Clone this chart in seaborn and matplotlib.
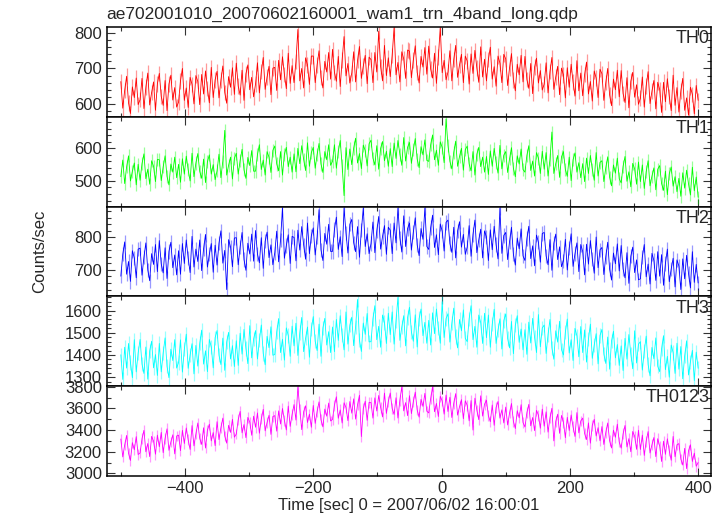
import numpy as np
import matplotlib
matplotlib.use("Agg")
import matplotlib.pyplot as plt
from matplotlib.ticker import MultipleLocator
import seaborn as sns

# time bins (sec), 3 s apart from -500 to 400
time = np.arange(-500, 401, 3)

th0 = [663, 588, 638, 678, 603, 573, 648, 618, 673, 598,
       612, 672, 587, 647, 687, 597, 632, 662, 582, 657,
       686, 621, 596, 666, 581, 656, 681, 611, 646, 591,
       605, 665, 700, 610, 645, 590, 675, 655, 600, 680,
       663, 598, 683, 628, 693, 643, 603, 703, 618, 668,
       692, 617, 667, 707, 632, 602, 677, 647, 702, 627,
       715, 650, 625, 695, 610, 685, 710, 640, 675, 620,
       656, 716, 631, 691, 731, 641, 676, 706, 626, 701,
       703, 638, 723, 668, 733, 683, 643, 743, 658, 708,
       660, 720, 810, 665, 700, 645, 730, 710, 655, 735,
       735, 660, 710, 750, 675, 645, 720, 690, 745, 670,
       754, 689, 664, 734, 649, 724, 790, 679, 714, 659,
       687, 747, 662, 722, 762, 672, 707, 737, 657, 732,
       725, 660, 745, 690, 805, 705, 665, 765, 680, 730,
       677, 737, 815, 682, 717, 662, 747, 727, 672, 752,
       749, 674, 724, 764, 689, 659, 734, 704, 759, 684,
       763, 698, 673, 743, 658, 733, 815, 688, 723, 668,
       690, 750, 665, 725, 765, 675, 710, 740, 660, 735,
       721, 656, 741, 686, 751, 701, 661, 761, 676, 726,
       665, 725, 760, 670, 705, 650, 735, 715, 660, 740,
       727, 652, 702, 742, 667, 637, 712, 682, 737, 662,
       734, 669, 644, 714, 629, 704, 729, 659, 694, 639,
       656, 716, 631, 691, 731, 641, 676, 706, 626, 701,
       682, 617, 702, 647, 712, 662, 622, 722, 637, 687,
       623, 683, 718, 628, 663, 608, 693, 673, 618, 698,
       685, 610, 660, 700, 625, 595, 670, 640, 695, 620,
       694, 629, 604, 674, 589, 664, 689, 619, 654, 599,
       616, 676, 591, 651, 691, 601, 636, 666, 586, 661,
       641, 576, 661, 606, 671, 621, 581, 681, 596, 646,
       577, 637, 672, 582, 617, 568, 647, 627, 572, 652,
       610]

th1 = [513, 564, 492, 543, 577, 500, 530, 555, 488, 551,
       502, 553, 583, 507, 536, 490, 562, 545, 498, 566,
       565, 501, 543, 577, 514, 488, 552, 527, 573, 510,
       551, 496, 568, 521, 576, 534, 500, 585, 513, 555,
       584, 529, 508, 567, 495, 559, 580, 521, 550, 504,
       531, 582, 510, 561, 655, 518, 548, 573, 506, 569,
       585, 521, 563, 597, 534, 508, 572, 547, 593, 530,
       530, 581, 611, 535, 564, 518, 590, 573, 526, 594,
       607, 552, 531, 590, 518, 582, 603, 544, 573, 527,
       583, 528, 600, 553, 608, 566, 532, 617, 545, 587,
       603, 539, 581, 615, 552, 526, 590, 565, 611, 548,
       560, 611, 539, 590, 624, 547, 455, 602, 535, 598,
       550, 601, 631, 555, 584, 538, 610, 593, 546, 614,
       625, 570, 549, 608, 536, 600, 621, 562, 591, 545,
       599, 544, 616, 569, 624, 582, 548, 633, 561, 603,
       618, 554, 596, 630, 567, 541, 605, 580, 626, 563,
       560, 611, 641, 565, 594, 548, 620, 603, 556, 690,
       609, 560, 537, 588, 622, 545, 575, 600, 533, 596,
       607, 552, 531, 590, 518, 582, 603, 544, 573, 527,
       575, 520, 592, 545, 600, 558, 524, 609, 537, 579,
       590, 526, 568, 602, 539, 513, 577, 552, 598, 535,
       527, 578, 608, 532, 561, 515, 587, 570, 523, 591,
       536, 587, 515, 566, 650, 523, 553, 578, 511, 574,
       590, 535, 514, 573, 501, 565, 586, 527, 556, 510,
       553, 498, 570, 523, 578, 536, 502, 587, 515, 557,
       562, 498, 540, 574, 511, 485, 549, 524, 570, 507,
       494, 545, 575, 499, 528, 482, 554, 537, 490, 558,
       498, 549, 477, 528, 562, 485, 515, 540, 473, 536,
       547, 492, 471, 530, 458, 522, 543, 484, 513, 467,
       508, 453, 525, 478, 533, 491, 457, 542, 470, 512,
       450]

th2 = [681, 748, 786, 687, 726, 665, 759, 737, 676, 764,
       767, 684, 739, 783, 700, 667, 750, 717, 778, 695,
       790, 718, 691, 768, 674, 757, 785, 707, 746, 685,
       759, 687, 781, 720, 792, 736, 692, 803, 709, 764,
       726, 792, 698, 765, 809, 709, 748, 781, 693, 776,
       715, 782, 820, 721, 760, 640, 793, 771, 710, 798,
       799, 716, 771, 815, 732, 699, 782, 749, 810, 727,
       821, 749, 722, 799, 705, 788, 816, 738, 777, 716,
       753, 819, 725, 792, 890, 736, 775, 808, 720, 803,
       800, 728, 822, 761, 833, 777, 733, 844, 750, 805,
       829, 746, 801, 885, 762, 729, 812, 779, 840, 757,
       757, 824, 862, 763, 802, 741, 890, 813, 752, 840,
       855, 783, 756, 833, 739, 822, 890, 772, 811, 750,
       781, 847, 753, 820, 864, 764, 803, 836, 748, 831,
       822, 750, 844, 783, 890, 799, 755, 866, 772, 827,
       844, 761, 816, 860, 777, 744, 827, 794, 890, 772,
       763, 830, 868, 769, 808, 747, 841, 819, 758, 846,
       853, 781, 754, 831, 737, 820, 848, 770, 809, 748,
       770, 836, 742, 809, 853, 753, 792, 825, 737, 820,
       801, 729, 823, 762, 834, 778, 734, 890, 751, 806,
       815, 732, 787, 831, 748, 715, 798, 765, 826, 743,
       729, 796, 834, 735, 774, 713, 807, 785, 724, 812,
       815, 743, 716, 793, 699, 782, 810, 732, 771, 710,
       728, 794, 700, 767, 811, 711, 750, 783, 695, 778,
       757, 685, 779, 718, 790, 734, 690, 801, 707, 762,
       769, 686, 741, 785, 702, 669, 752, 719, 780, 697,
       775, 703, 676, 753, 659, 742, 770, 692, 731, 670,
       673, 740, 778, 679, 718, 657, 751, 729, 668, 756,
       681, 747, 653, 720, 764, 664, 703, 736, 648, 731,
       712, 640, 734, 673, 745, 689, 645, 756, 662, 717,
       660]

th3 = [1401, 1290, 1435, 1341, 1452, 1366, 1298, 1469, 1324, 1409,
       1470, 1359, 1317, 1436, 1291, 1419, 1462, 1342, 1402, 1308,
       1452, 1324, 1409, 1477, 1349, 1298, 1426, 1375, 1469, 1341,
       1366, 1468, 1323, 1426, 1494, 1340, 1400, 1451, 1315, 1443,
       1350, 1453, 1512, 1359, 1419, 1325, 1470, 1436, 1342, 1478,
       1510, 1399, 1357, 1476, 1331, 1459, 1502, 1382, 1442, 1348,
       1464, 1353, 1498, 1404, 1515, 1429, 1361, 1532, 1387, 1472,
       1510, 1382, 1467, 1535, 1407, 1356, 1484, 1433, 1527, 1399,
       1402, 1505, 1564, 1411, 1471, 1377, 1522, 1488, 1394, 1530,
       1441, 1543, 1398, 1501, 1569, 1415, 1475, 1526, 1390, 1518,
       1573, 1462, 1420, 1539, 1394, 1522, 1565, 1445, 1505, 1411,
       1526, 1415, 1560, 1466, 1577, 1491, 1423, 1594, 1449, 1534,
       1570, 1442, 1527, 1650, 1467, 1416, 1544, 1493, 1587, 1459,
       1460, 1563, 1622, 1469, 1529, 1435, 1580, 1546, 1452, 1588,
       1492, 1594, 1449, 1552, 1660, 1466, 1526, 1577, 1441, 1569,
       1615, 1504, 1462, 1581, 1436, 1564, 1607, 1487, 1547, 1453,
       1556, 1445, 1590, 1496, 1607, 1521, 1453, 1640, 1479, 1564,
       1586, 1458, 1543, 1611, 1483, 1432, 1560, 1509, 1603, 1475,
       1460, 1563, 1622, 1469, 1529, 1435, 1580, 1546, 1452, 1588,
       1478, 1580, 1435, 1538, 1606, 1452, 1512, 1563, 1427, 1555,
       1585, 1474, 1432, 1551, 1406, 1534, 1577, 1457, 1517, 1423,
       1514, 1403, 1548, 1454, 1565, 1479, 1411, 1582, 1437, 1522,
       1535, 1407, 1492, 1560, 1432, 1381, 1509, 1458, 1552, 1424,
       1400, 1503, 1562, 1409, 1469, 1375, 1520, 1486, 1392, 1528,
       1411, 1513, 1368, 1471, 1539, 1385, 1445, 1496, 1360, 1488,
       1515, 1404, 1362, 1481, 1336, 1464, 1507, 1387, 1447, 1353,
       1441, 1330, 1475, 1381, 1492, 1406, 1338, 1509, 1364, 1449,
       1460, 1332, 1417, 1485, 1357, 1306, 1434, 1383, 1477, 1349,
       1325, 1428, 1487, 1334, 1394, 1300, 1445, 1411, 1317, 1453,
       1336, 1438, 1293, 1396, 1464, 1310, 1370, 1421, 1285, 1413,
       1340]

th0123 = [3317, 3152, 3262, 3350, 3185, 3119, 3284, 3218, 3339, 3174,
          3188, 3320, 3397, 3199, 3276, 3155, 3342, 3298, 3177, 3353,
          3246, 3378, 3191, 3323, 3411, 3213, 3290, 3356, 3180, 3345,
          3353, 3210, 3397, 3276, 3419, 3309, 3221, 3441, 3254, 3364,
          3465, 3322, 3267, 3421, 3234, 3399, 3454, 3300, 3377, 3256,
          3477, 3312, 3422, 3510, 3345, 3279, 3444, 3378, 3499, 3334,
          3363, 3495, 3572, 3374, 3451, 3330, 3517, 3473, 3352, 3528,
          3426, 3558, 3371, 3503, 3591, 3393, 3470, 3536, 3360, 3525,
          3533, 3390, 3577, 3456, 3599, 3489, 3401, 3621, 3434, 3544,
          3635, 3492, 3800, 3591, 3404, 3569, 3624, 3470, 3547, 3426,
          3627, 3462, 3572, 3660, 3495, 3429, 3594, 3528, 3649, 3484,
          3498, 3630, 3707, 3509, 3586, 3465, 3652, 3608, 3487, 3663,
          3556, 3688, 3501, 3633, 3721, 3340, 3600, 3666, 3490, 3655,
          3653, 3510, 3697, 3576, 3719, 3609, 3521, 3741, 3554, 3664,
          3742, 3599, 3544, 3698, 3511, 3676, 3800, 3577, 3654, 3533,
          3717, 3552, 3662, 3750, 3585, 3519, 3684, 3618, 3739, 3574,
          3558, 3690, 3800, 3569, 3646, 3525, 3712, 3668, 3547, 3723,
          3571, 3703, 3516, 3648, 3736, 3538, 3615, 3681, 3505, 3670,
          3628, 3485, 3672, 3400, 3694, 3584, 3496, 3716, 3529, 3639,
          3675, 3532, 3477, 3631, 3444, 3609, 3664, 3510, 3587, 3466,
          3612, 3447, 3557, 3645, 3480, 3414, 3579, 3513, 3634, 3469,
          3428, 3560, 3637, 3439, 3516, 3395, 3582, 3538, 3417, 3593,
          3436, 3568, 3381, 3513, 3601, 3300, 3480, 3546, 3370, 3535,
          3473, 3330, 3517, 3396, 3539, 3429, 3341, 3561, 3374, 3484,
          3510, 3367, 3312, 3466, 3279, 3444, 3499, 3345, 3422, 3301,
          3432, 3267, 3377, 3465, 3300, 3234, 3399, 3333, 3454, 3289,
          3233, 3365, 3442, 3244, 3321, 3200, 3387, 3343, 3222, 3398,
          3221, 3353, 3166, 3298, 3386, 3188, 3265, 3331, 3155, 3320,
          3253, 3110, 3297, 3176, 3319, 3209, 3121, 3341, 3154, 3264,
          3275, 3132, 3077, 3231, 3044, 3209, 3264, 3110, 3187, 3066,
          3100]

# typical 1-sigma error of a bin in each band (counts/sec)
errors = [22, 20, 22, 32, 50]

names = ["TH0", "TH1", "TH2", "TH3", "TH0123"]
series = [th0, th1, th2, th3, th0123]
colors = ["#ff0000", "#00ff00", "#0000ff", "#00ffff", "#ff00ff"]
ylims = [(563, 816), (421, 696), (619, 894), (1260, 1664), (2978, 3806)]
majors = [100, 100, 100, 100, 200]
minors = [20, 20, 20, 20, 100]

sns.set_style("ticks")
plt.rcParams['font.family'] = ['Liberation Sans', 'DejaVu Sans']

fig, axes = plt.subplots(5, 1, figsize=(7.24, 5.16), dpi=100, sharex=True)
fig.subplots_adjust(left=0.1474, right=0.982, top=0.947, bottom=0.078, hspace=0)

for i, ax in enumerate(axes):
    y = np.array(series[i])
    # error bars in a lighter shade, then the curve itself
    ax.vlines(time, y - errors[i], y + errors[i], color=colors[i], lw=0.9, alpha=0.4)
    sns.lineplot(x=time, y=y, ax=ax, color=colors[i], lw=0.6,
                 estimator=None, sort=False)
    ax.set_xlim(-522, 420)
    ax.set_ylim(*ylims[i])
    ax.xaxis.set_major_locator(MultipleLocator(200))
    ax.xaxis.set_minor_locator(MultipleLocator(100))
    ax.yaxis.set_major_locator(MultipleLocator(majors[i]))
    ax.yaxis.set_minor_locator(MultipleLocator(minors[i]))
    ax.tick_params(which='both', direction='in', top=True, right=True,
                   width=0.8, color='#333333', labelsize=12)
    ax.tick_params(which='major', length=6)
    ax.tick_params(which='minor', length=3)
    for s in ax.spines.values():
        s.set_linewidth(1.1)
        s.set_color('black')
    ax.set_ylabel("")
    ax.text(0.997, 0.965, names[i], transform=ax.transAxes, ha='right',
            va='top', fontsize=13)

axes[-1].set_xlabel("Time [sec] 0 = 2007/06/02 16:00:01", fontsize=12, labelpad=2)
fig.text(0.055, 0.513, "Counts/sec", rotation=90, ha='center', va='center', fontsize=12)
fig.text(0.1474, 0.972, "ae702001010_20070602160001_wam1_trn_4band_long.qdp",
         ha='left', va='center', fontsize=12.5)

fig.savefig("out.png", dpi=100)
